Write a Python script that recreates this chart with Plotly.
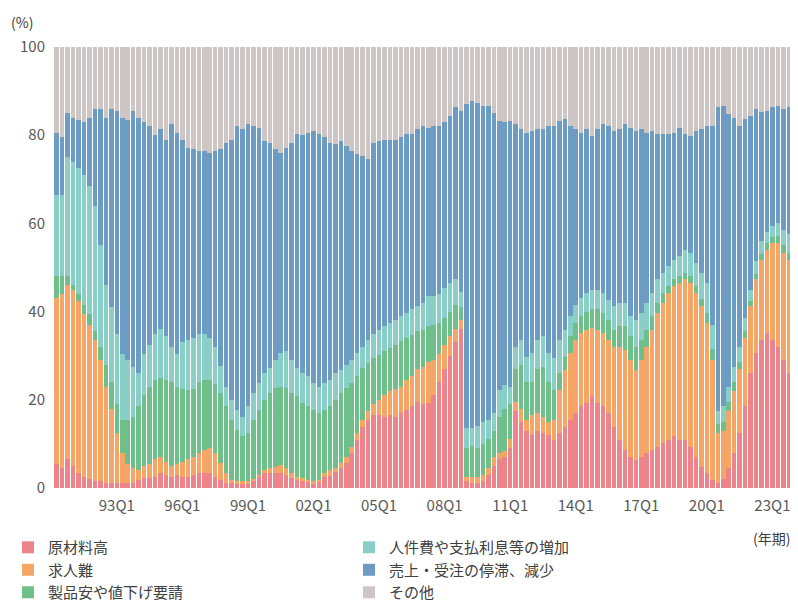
import plotly.graph_objects as go

# Quarterly categories: 90Q2 ... 24Q1
quarters = [f"{y % 100:02d}Q{q}" for y in range(1990, 2025) for q in range(1, 5)][1:137]
tick_labels = ["93Q1", "96Q1", "99Q1", "02Q1", "05Q1", "08Q1", "11Q1", "14Q1", "17Q1", "20Q1", "23Q1"]

genzairyo = [  # 原材料高
    5.5, 4.5, 6.5, 5, 3.5, 2.5, 2, 1.5, 1.5, 1.2,
    1.2, 1.2, 1.2, 1.2, 1.2, 1.8, 2.2, 2.2, 2.6, 3.3,
    3, 2.6, 3, 2.6, 2.6, 3, 3.3, 3.3, 3.3, 2.6,
    1.8, 1.1, 1.1, 1.1, 1.1, 1.1, 1.8, 2.6, 3.3, 3.3,
    3.3, 3.3, 3, 2.2, 1.8, 1.8, 1.5, 1.1, 1.5, 2.6,
    2.8, 3.7, 4.5, 5.6, 7.9, 10.9, 13.9, 15.5, 16.5, 16.5,
    16, 16.5, 16, 17, 17.7, 18.5, 19.6, 19, 19.2, 21,
    24, 27, 30, 33, 36, 1.5, 1.1, 1.1, 1.5, 3,
    5, 6.5, 7, 9, 17.5, 15, 13, 12, 13, 12.5,
    12, 10.9, 12.4, 13.9, 15.5, 17, 18.5, 19.2, 20.8, 19.2,
    18.5, 17, 13.9, 10.9, 8.6, 7.1, 6.4, 7, 7.9, 8.6,
    9.4, 10.2, 10.9, 11.7, 10.9, 10.9, 9.4, 7.1, 4.8, 3.3,
    1.8, 1.1, 2, 4.5, 8, 12.4, 18.5, 26, 30.6, 33.6,
    35.2, 33.6, 32, 29, 26, 23,
]
kyujinnan = [  # 求人難
    37.5, 39.5, 39.5, 40, 39, 37, 35, 32, 27.5, 21.8,
    16.8, 11.3, 6.8, 4.3, 3.3, 2.2, 2.8, 3.3, 3.9, 3.7,
    3, 2.4, 2.5, 3.4, 3.9, 4, 4.7, 5.3, 5.7, 5.4,
    3.8, 2.2, 0.7, 0.4, 0.4, 0.4, 0.2, 0.4, 0.8, 1.2,
    1.5, 1.9, 1.5, 1.1, 0.8, 0.4, 0.3, 0.4, 0.4, 0.7,
    1.3, 0.8, 1.1, 1.5, 1.5, 1.5, 1.6, 2, 2.5, 3.5,
    5, 5.5, 6.5, 6, 6.8, 7, 7.4, 8.5, 9.3, 8,
    6.5, 5.5, 4.5, 3, 2, 1, 1.4, 1.4, 1.5, 1.5,
    2, 1.5, 1.5, 2, 2, 3, 2.5, 4.5, 4, 3.5,
    3, 4.6, 9.9, 12.9, 15.1, 16.6, 16.7, 16.7, 15.5, 16.7,
    16.7, 16.6, 18.1, 21.1, 22.8, 21.9, 20.4, 22, 24.1, 27.3,
    30.3, 31.8, 33.3, 34.1, 35.6, 36.4, 37.1, 37.1, 36.4, 34.1,
    27.2, 11.4, 11, 13, 14, 14.6, 15.5, 15.2, 16.7, 18.2,
    18.8, 22, 23.6, 24.3, 25.8, 27.3,
]
seihinyasu = [  # 製品安や値下げ要請
    5, 4, 2, 1, 1.5, 2, 2.5, 2, 3, 5,
    6, 6.5, 7.5, 10, 11.5, 14.5, 16, 17.5, 18, 18,
    18.5, 19, 17.5, 16.5, 15.8, 15.5, 16, 15.9, 15.5, 15.5,
    15.9, 15.2, 13.7, 11.7, 10.2, 10.9, 13.5, 14.7, 15.9, 17,
    17.9, 17.8, 18.2, 18.2, 18.2, 17, 16.7, 16.2, 15.1, 14.4,
    14.4, 15.5, 15.9, 15.6, 14.4, 12.9, 11.7, 10.8, 10.5, 10.2,
    10, 9.7, 10, 10.3, 9.5, 9.3, 8.5, 8.4, 8.2, 8,
    7, 6, 5.5, 5.5, 3, 6.5, 7, 6.5, 7, 6.5,
    6, 8, 9.5, 8, 7.5, 10, 8.5, 7.5, 10, 11.5,
    9, 6.8, 3.7, 3, 3.9, 3.9, 3.8, 4.1, 4.2, 4.6,
    4.5, 4.6, 3.9, 4.7, 5.3, 5.4, 5.2, 4.6, 3.9, 3.1,
    2.3, 2.2, 1.6, 1.5, 1.5, 1.5, 1.5, 1.6, 1.6, 2.3,
    2.5, 2, 2, 2, 2, 1.5, 1.5, 1.3, 1.2, 1.2,
    1.5, 1.4, 1.6, 1.7, 1.5, 2.3,
]
jinkenhi = [  # 人件費や支払利息等の増加
    18.5, 18.5, 27, 28, 28.5, 29.5, 29, 28.5, 23, 18,
    17, 16, 15, 13.5, 11.5, 7.5, 9.5, 9.5, 10.5, 11,
    10, 8, 7.5, 10.5, 11.2, 11.5, 11, 10.5, 9.5, 8.5,
    6.1, 4.5, 4.5, 4.5, 4.5, 6.1, 6, 6.1, 6, 5.7,
    6.3, 7.6, 8.3, 7.5, 6.4, 6.8, 6.8, 6.1, 6, 6.1,
    6, 6, 5.3, 5.3, 5.2, 5.3, 4.8, 5.3, 5.5, 5.6,
    5.7, 5.7, 5.7, 5.7, 5.7, 5.7, 5.7, 6.1, 6.8, 6.5,
    6.5, 6.9, 6.5, 5.8, 3.5, 4.5, 4, 5, 5, 4.5,
    4, 6.3, 5.4, 4, 5, 5.6, 5.8, 6.6, 6.6, 6.9,
    6.6, 7.2, 7.6, 6.1, 4.5, 4, 4, 4.2, 4.5, 4.5,
    4.5, 4.5, 5.3, 5.3, 5.3, 4.6, 6.2, 6.1, 6.1, 5.2,
    5.3, 4.6, 4.5, 4.5, 4.6, 5.2, 5.3, 5.2, 6, 6.8,
    5.5, 3, 3.5, 3.5, 3.5, 3.5, 3, 2.5, 3, 3,
    2.5, 2.4, 2.8, 3.5, 4.2, 4.4,
]
uriage = [  # 売上・受注の停滞、減少
    14, 13, 10, 10, 11, 12, 15.5, 22, 31, 38,
    45, 50.5, 53.5, 54.5, 58, 58, 52.5, 49.5, 45, 45.5,
    44.5, 50.5, 50, 46, 43.5, 42.8, 41.4, 41.4, 42, 44.4,
    49.2, 55.3, 59, 64.3, 65.2, 64, 60.5, 57.9, 52.7, 51.1,
    47.8, 45.4, 46.2, 49.3, 53, 54, 55.3, 57.2, 57.2, 55.7,
    53.8, 52, 51.9, 49.6, 47.4, 45.1, 43.3, 40.9, 43.3, 42.9,
    42.3, 41.6, 40.8, 40.5, 40.5, 39.7, 40.2, 40, 38.2, 38.5,
    38, 37.5, 37.9, 39, 41, 73.5, 74.3, 73.4, 71.7, 71.2,
    68, 61, 59.5, 60.3, 50.5, 47.8, 50.8, 50.4, 47.8, 47,
    51.4, 52.7, 49.7, 47.7, 43, 39.9, 37.6, 37.2, 34.8, 36.4,
    38.3, 39.3, 39.8, 39.4, 40.5, 42.7, 42.8, 41.7, 38.6, 36.8,
    32.9, 31.4, 29.9, 28.8, 29.1, 26.2, 26.5, 30, 32.6, 35.5,
    45, 69, 68.2, 61.8, 56.5, 50, 45.1, 39.4, 34.4, 29.2,
    27.5, 26.9, 26.7, 27.5, 28.8, 29,
]
sonota = [  # その他
    19.5, 20.5, 15, 16, 16.5, 17, 16, 14, 14, 16,
    14, 14.5, 16, 16.5, 14.5, 16, 17, 18, 20, 18.5,
    21, 17.5, 19.5, 21, 23, 23.2, 23.6, 23.6, 24, 23.6,
    23.2, 21.7, 21, 18, 18.6, 17.5, 18, 18.3, 21.3, 21.7,
    23.2, 24, 22.8, 21.7, 19.8, 20, 19.4, 19, 19.8, 20.5,
    21.7, 22, 21.3, 22.4, 23.6, 24.3, 24.7, 25.5, 21.7, 21.3,
    21, 21, 21, 20.5, 19.8, 19.8, 18.6, 18, 18.3, 18,
    18, 17.1, 15.6, 13.7, 14.5, 13, 12.2, 12.6, 13.3, 13.3,
    15, 16.7, 17.1, 16.7, 17.5, 18.6, 19.4, 19, 18.6, 18.6,
    18, 17.8, 16.7, 16.4, 18, 18.6, 19.4, 18.6, 20.2, 18.6,
    17.5, 18, 19, 18.6, 17.5, 18.3, 19, 18.6, 19.4, 19,
    19.8, 19.8, 19.8, 19.4, 18.3, 19.8, 20.2, 19, 18.6, 18,
    18, 13.5, 13.3, 15.2, 16, 18, 16.4, 15.6, 14.1, 14.8,
    14.5, 13.7, 13.3, 14, 13.7, 14,
]

series = [
    ("原材料高", genzairyo, "#EE848B", 1),
    ("求人難", kyujinnan, "#F5A565", 3),
    ("製品安や値下げ要請", seihinyasu, "#6EBF89", 5),
    ("人件費や支払利息等の増加", jinkenhi, "#89CFC7", 2),
    ("売上・受注の停滞、減少", uriage, "#6C9BC4", 4),
    ("その他", sonota, "#CDC6C4", 6),
]

fig = go.Figure()
for name, vals, color, rank in series:
    fig.add_trace(go.Bar(
        x=quarters, y=vals, name=name, legendrank=rank,
        marker=dict(color=color, line=dict(width=0)),
        hoverinfo="x+y+name",
    ))

# The page body has an 8px margin, so the figure is sized 8px smaller.
fig.update_layout(
    width=790, height=593,
    margin=dict(l=46, r=1, t=39, b=113),
    barmode="stack", bargap=0.17,
    plot_bgcolor="white", paper_bgcolor="white",
    font=dict(family="Noto Sans CJK JP", size=15, color="#595959"),
    xaxis=dict(type="category", tickmode="array", tickvals=tick_labels, ticktext=tick_labels,
               showgrid=False, showline=False, zeroline=False, ticks="",
               ticklabelstandoff=7, tickfont=dict(size=15, color="#595959")),
    yaxis=dict(range=[0, 100], tickvals=[0, 20, 40, 60, 80, 100],
               showgrid=False, showline=False, zeroline=False, ticks="",
               ticklabelstandoff=8, tickfont=dict(size=15, color="#595959")),
    legend=dict(orientation="h", xref="container", yref="container",
                x=-0.03, y=0.118, xanchor="left", yanchor="top",
                traceorder="normal",
                entrywidth=296, entrywidthmode="pixels",
                font=dict(size=15, color="#404040"), bgcolor="rgba(0,0,0,0)"),
    annotations=[
        dict(text="(%)", xref="paper", yref="paper", x=-0.043, y=1.057,
             xanchor="center", yanchor="middle",
             showarrow=False, font=dict(size=14, color="#404040")),
        dict(text="(年期)", xref="paper", yref="paper", x=0.966, y=-0.113,
             xanchor="center", yanchor="middle",
             showarrow=False, font=dict(size=14, color="#404040")),
    ],
)

fig.write_html("out.html")
